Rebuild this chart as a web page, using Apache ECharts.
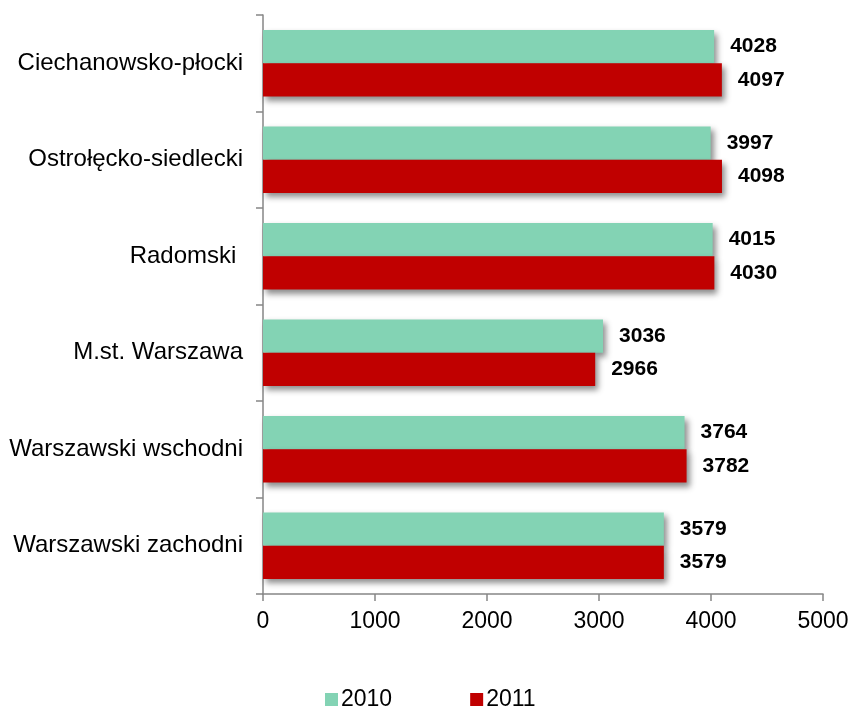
<!DOCTYPE html>
<html><head><meta charset="utf-8">
<script src="https://cdn.jsdelivr.net/npm/echarts@6/dist/echarts.min.js"></script>
<style>html,body{margin:0;padding:0;background:#fff}#c{width:852px;height:709px}</style>
</head><body><div id="c"></div>
<script>
var categories = ['Ciechanowsko-płocki','Ostrołęcko-siedlecki','Radomski ','M.st. Warszawa','Warszawski wschodni','Warszawski zachodni'];
var values2010 = [4028, 3997, 4015, 3036, 3764, 3579];
var values2011 = [4097, 4098, 4030, 2966, 3782, 3579];
var xTicks = [0, 1000, 2000, 3000, 4000, 5000];
var seriesNames = ['2010', '2011'];
var colors = ['#83d3b4', '#c00000'];

var FONT = '"Liberation Sans", Arial, sans-serif';
var chart = echarts.init(document.getElementById('c'), null, {renderer: 'canvas'});
function mk(name, data, color) {
  return {
    name: name, type: 'bar', data: data,
    barGap: '0%', barCategoryGap: '31%',
    itemStyle: {color: color, shadowColor: 'rgba(0,0,0,0.45)', shadowBlur: 6, shadowOffsetX: 3, shadowOffsetY: 4},
    label: {show: true, position: 'right', distance: 16, color: '#000', fontFamily: FONT, fontWeight: 'bold', fontSize: 21},
    emphasis: {disabled: true}
  };
}
chart.setOption({
  animation: false,
  color: colors,
  grid: {left: 263, right: 29, top: 15, bottom: 115, containLabel: false},
  legend: {
    data: seriesNames, left: 320, top: 683, itemWidth: 13, itemHeight: 13, itemGap: 78, icon: 'rect',
    textStyle: {fontFamily: FONT, fontSize: 23, color: '#000', padding: [0,0,0,-2]}
  },
  xAxis: {
    type: 'value', min: xTicks[0], max: xTicks[xTicks.length-1], interval: 1000,
    axisLine: {show: true, lineStyle: {color: '#868686', width: 1.5}},
    axisTick: {show: true, length: 7, lineStyle: {color: '#868686', width: 1.5}},
    splitLine: {show: false},
    axisLabel: {fontFamily: FONT, fontSize: 23, color: '#000', margin: 16, formatter: function(v){ return String(v); }}
  },
  yAxis: {
    type: 'category', data: categories, inverse: true,
    axisLine: {show: true, lineStyle: {color: '#868686', width: 1.5}},
    axisTick: {show: true, length: 7, lineStyle: {color: '#868686', width: 1.5}},
    axisLabel: {fontFamily: FONT, fontSize: 24, color: '#000', margin: 20}
  },
  series: [mk(seriesNames[0], values2010, colors[0]), mk(seriesNames[1], values2011, colors[1])]
});
</script></body></html>
